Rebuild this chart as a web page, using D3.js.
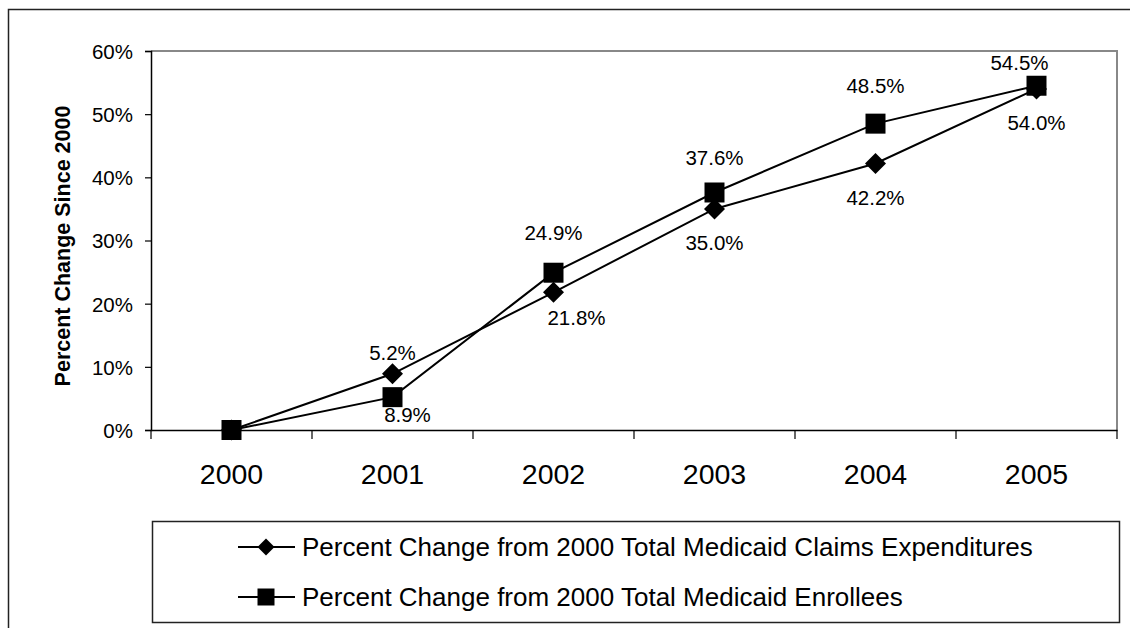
<!DOCTYPE html>
<html><head><meta charset="utf-8">
<script src="https://cdn.jsdelivr.net/npm/d3@7"></script>
<style>body{margin:0;background:#fff}svg{display:block}text{font-family:Arial,"Liberation Sans",sans-serif;fill:#000}</style>
</head><body><svg id="c" width="1130" height="628"></svg>
<script>
const years = ["2000","2001","2002","2003","2004","2005"];
const expenditures = [0, 8.9, 21.8, 35.0, 42.2, 54.0];
const enrollees = [0, 5.2, 24.9, 37.6, 48.5, 54.5];
const yTicks = [0, 10, 20, 30, 40, 50, 60];
const seriesNames = ["Percent Change from 2000 Total Medicaid Claims Expenditures", "Percent Change from 2000 Total Medicaid Enrollees"];
const yTitle = "Percent Change Since 2000";

const svg = d3.select("#c");
const L = 151, R = 1117, T = 51, B = 430;
const x = d3.scaleBand().domain(years).range([L, R]);
const y = d3.scaleLinear().domain([0, 60]).range([B, T]);

// outer frame
svg.append("rect").attr("x", 8.5).attr("y", 9.5).attr("width", 1300).attr("height", 800)
  .attr("fill", "none").attr("stroke", "#222").attr("stroke-width", 1.5);

// plot area border (top/right gray)
svg.append("path").attr("d", `M${L},${T}H${R}V${B}`).attr("fill", "none").attr("stroke", "#888").attr("stroke-width", 2);

// y axis
const ya = svg.append("g").attr("transform", `translate(${L},0)`)
  .call(d3.axisLeft(y).tickValues(yTicks).tickSize(6).tickPadding(12).tickFormat(d => d + "%"));
ya.select(".domain").attr("stroke", "#000").attr("stroke-width", 1.5);
ya.selectAll(".tick line").attr("stroke", "#000").attr("stroke-width", 1.2);
ya.selectAll(".tick text").attr("font-size", 20.5).attr("dy", "0.36em");

// x axis
const xa = svg.append("g").attr("transform", `translate(0,${B})`)
  .call(d3.axisBottom(x).tickSize(0).tickPadding(0));
xa.select(".domain").attr("stroke", "#000").attr("stroke-width", 1.5);
xa.selectAll(".tick text").attr("font-size", 28.5).attr("y", 44).attr("dy", "0.36em");
// boundary ticks
const bounds = years.map(d => x(d)).concat([R]);
svg.append("g").selectAll("line").data(bounds).join("line")
  .attr("x1", d => d).attr("x2", d => d).attr("y1", B).attr("y2", B + 9)
  .attr("stroke", "#000").attr("stroke-width", 1.2);

// y title
svg.append("text").attr("transform", "translate(70,246) rotate(-90)")
  .attr("text-anchor", "middle").attr("font-weight", "bold").attr("font-size", 21.5).text(yTitle);

const cx = (d, i) => x(years[i]) + x.bandwidth() / 2;
const line = d3.line().x(cx).y(d => y(d));

const diamond = s => `M0,${-s}L${s},0L0,${s}L${-s},0Z`;
const square = s => `M${-s},${-s}H${s}V${s}H${-s}Z`;

function drawSeries(vals, shape, size) {
  svg.append("path").datum(vals).attr("d", line).attr("fill", "none").attr("stroke", "#000").attr("stroke-width", 2);
  svg.append("g").selectAll("path").data(vals).join("path")
    .attr("transform", (d, i) => `translate(${cx(d, i)},${y(d)})`)
    .attr("d", shape(size)).attr("fill", "#000");
}
drawSeries(expenditures, diamond, 10.5);
drawSeries(enrollees, square, 10);

// data labels (layout offsets; a few hand-nudged as in the original)
const nudgeExp = {1: [15, 7], 2: [23, -9]};
const nudgeEnr = {1: [0, -7], 2: [0, -2], 3: [0, 3], 5: [-17, 0]};
function labels(vals, dy, nudge) {
  svg.append("g").selectAll("text").data(vals.map((v, i) => ({v, i})).filter(d => d.i > 0)).join("text")
    .attr("x", d => cx(d.v, d.i) + (nudge[d.i] ? nudge[d.i][0] : 0))
    .attr("y", d => Math.max(T + 12, y(d.v) + dy + (nudge[d.i] ? nudge[d.i][1] : 0)))
    .attr("dy", "0.36em").attr("text-anchor", "middle").attr("font-size", 20.5)
    .text(d => d.v.toFixed(1) + "%");
}
labels(expenditures, 34, nudgeExp);
labels(enrollees, -38, nudgeEnr);

// legend
const lg = svg.append("g");
lg.append("rect").attr("x", 152.5).attr("y", 521.5).attr("width", 967).attr("height", 101)
  .attr("fill", "#fff").attr("stroke", "#222").attr("stroke-width", 1.5);
const shapes = [[diamond, 8.5], [square, 8.5]];
seriesNames.forEach((n, i) => {
  const yy = 547 + i * 50;
  lg.append("line").attr("x1", 238).attr("x2", 295).attr("y1", yy).attr("y2", yy).attr("stroke", "#000").attr("stroke-width", 2);
  lg.append("path").attr("transform", `translate(266,${yy})`).attr("d", shapes[i][0](shapes[i][1])).attr("fill", "#000");
  lg.append("text").attr("x", 302).attr("y", yy).attr("dy", "0.36em").attr("font-size", 26).text(n);
});
</script></body></html>
